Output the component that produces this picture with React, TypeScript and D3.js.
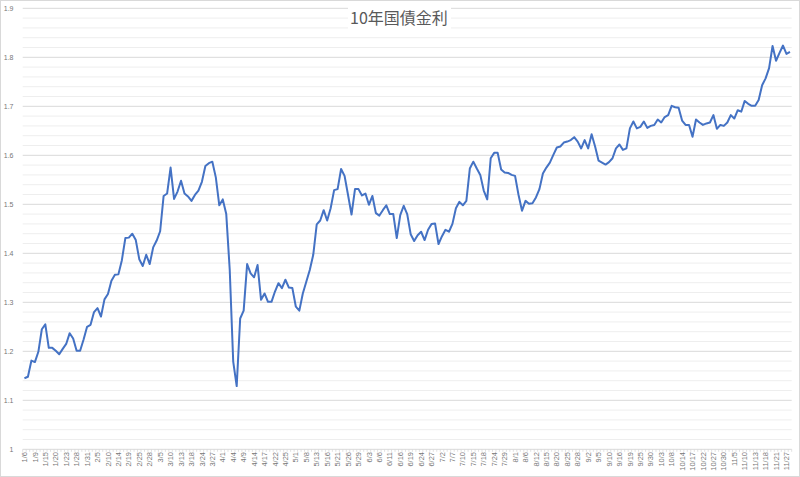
import React from "react";
import * as d3 from "d3";

const title = "10年国債金利";

const dates: string[] = [
  "1/6","1/7","1/8","1/9","1/10","1/14","1/15","1/16","1/17","1/20","1/21","1/22","1/23","1/24","1/27","1/28","1/29","1/30","1/31",
  "2/3","2/4","2/5","2/6","2/7","2/10","2/12","2/13","2/14","2/17","2/18","2/19","2/20","2/21","2/25","2/26","2/27","2/28",
  "3/3","3/4","3/5","3/6","3/7","3/10","3/11","3/12","3/13","3/14","3/17","3/18","3/19","3/21","3/24","3/25","3/26","3/27","3/28","3/31",
  "4/1","4/2","4/3","4/4","4/7","4/8","4/9","4/10","4/11","4/14","4/15","4/16","4/17","4/18","4/21","4/22","4/23","4/24","4/25","4/28","4/30",
  "5/1","5/2","5/7","5/8","5/9","5/12","5/13","5/14","5/15","5/16","5/19","5/20","5/21","5/22","5/23","5/26","5/27","5/28","5/29","5/30",
  "6/2","6/3","6/4","6/5","6/6","6/9","6/10","6/11","6/12","6/13","6/16","6/17","6/18","6/19","6/20","6/23","6/24","6/25","6/26","6/27","6/30",
  "7/1","7/2","7/3","7/4","7/7","7/8","7/9","7/10","7/11","7/14","7/15","7/16","7/17","7/18","7/22","7/23","7/24","7/25","7/28","7/29","7/30","7/31",
  "8/1","8/4","8/5","8/6","8/7","8/8","8/12","8/13","8/14","8/15","8/18","8/19","8/20","8/21","8/22","8/25","8/26","8/27","8/28","8/29",
  "9/1","9/2","9/3","9/4","9/5","9/8","9/9","9/10","9/11","9/12","9/16","9/17","9/18","9/19","9/22","9/24","9/25","9/26","9/29","9/30",
  "10/1","10/2","10/3","10/6","10/7","10/8","10/9","10/10","10/14","10/15","10/16","10/17","10/20","10/21","10/22","10/23","10/24","10/27","10/28","10/29","10/30","10/31",
  "11/4","11/5","11/6","11/7","11/10","11/11","11/12","11/13","11/14","11/17","11/18","11/19","11/20","11/21","11/25","11/26","11/27","11/28",
];

const yields: number[] = [
  1.145,1.148,1.181,1.178,1.199,1.245,1.255,1.207,1.207,1.201,1.194,1.205,1.215,1.237,1.226,1.201,1.201,1.224,1.250,
  1.254,1.280,1.288,1.271,1.306,1.317,1.344,1.356,1.357,1.386,1.431,1.432,1.440,1.427,1.388,1.374,1.397,1.378,
  1.412,1.426,1.445,1.517,1.522,1.575,1.511,1.526,1.548,1.522,1.516,1.507,1.519,1.528,1.546,1.578,1.584,1.587,1.555,1.498,
  1.510,1.480,1.366,1.179,1.129,1.267,1.283,1.378,1.359,1.351,1.376,1.305,1.318,1.301,1.301,1.322,1.339,1.329,1.346,1.330,1.329,
  1.291,1.283,1.318,1.342,1.366,1.397,1.459,1.467,1.488,1.467,1.492,1.529,1.531,1.572,1.558,1.519,1.479,1.531,1.531,1.518,
  1.522,1.499,1.517,1.482,1.477,1.488,1.498,1.480,1.480,1.431,1.478,1.497,1.480,1.439,1.425,1.437,1.444,1.427,1.448,1.460,1.461,
  1.419,1.435,1.448,1.444,1.460,1.492,1.505,1.498,1.507,1.573,1.587,1.573,1.560,1.528,1.510,1.594,1.605,1.605,1.571,1.565,1.564,1.560,
  1.558,1.519,1.487,1.507,1.501,1.502,1.514,1.531,1.563,1.575,1.585,1.601,1.616,1.618,1.626,1.628,1.631,1.637,1.628,1.614,
  1.631,1.614,1.643,1.618,1.589,1.585,1.581,1.586,1.594,1.614,1.622,1.611,1.614,1.655,1.669,1.655,1.658,1.669,1.656,1.660,
  1.662,1.673,1.667,1.678,1.682,1.701,1.698,1.697,1.671,1.662,1.662,1.638,1.673,1.667,1.662,1.665,1.667,1.682,1.654,1.662,1.660,1.667,
  1.682,1.675,1.692,1.689,1.711,1.705,1.701,1.701,1.713,1.743,1.757,1.778,1.823,1.793,1.809,1.824,1.807,1.811,
];

const yTicks: number[] = [1, 1.1, 1.2, 1.3, 1.4, 1.5, 1.6, 1.7, 1.8, 1.9];
const labelStep = 3;

const W = 800;
const H = 477;

export default function App() {
  const x = d3
    .scaleBand<number>()
    .domain(d3.range(dates.length))
    .range([22.7, 791.7])
    .paddingInner(0)
    .paddingOuter(0);
  const cx = (i: number) => (x(i) as number) + x.bandwidth() / 2;
  const y = d3.scaleLinear().domain([1, 1.9]).range([449.3, 8.3]);

  const minor = d3.range(0, 46).filter((k) => k % 5 !== 0).map((k) => 1 + k * 0.02);

  const line = d3
    .line<number>()
    .x((_, i) => cx(i))
    .y((d) => y(d));

  const tickFont = "'Liberation Sans', Arial, sans-serif";

  return (
    <div style={{ position: "absolute", left: 0, top: 0 }}>
      <svg width={W} height={H} style={{ display: "block" }}>
        <rect x={0} y={0} width={W} height={H} fill="#ffffff" />
        <rect x={0.5} y={0.5} width={W - 1} height={H - 1} fill="none" stroke="#d9d9d9" />
        {minor.map((v) => (
          <line key={"m" + v} x1={22.7} x2={791.7} y1={y(v)} y2={y(v)} stroke="#eeeeee" strokeWidth={1} />
        ))}
        {yTicks.map((v) => (
          <line key={"g" + v} x1={22.7} x2={791.7} y1={y(v)} y2={y(v)} stroke="#d9d9d9" strokeWidth={1} />
        ))}
        {d3.range(dates.length + 1).map((i) => {
          const xx = i < dates.length ? (x(i) as number) : 791.7;
          return <line key={"t" + i} x1={xx} x2={xx} y1={y(1)} y2={y(1) + 2.5} stroke="#d9d9d9" strokeWidth={0.8} />;
        })}
        {yTicks.map((v) => (
          <text
            key={"yl" + v}
            x={13.5}
            y={y(v)}
            dy="0.35em"
            textAnchor="end"
            fontSize={7}
            fontFamily={tickFont}
            fill="#777777"
          >
            {String(v)}
          </text>
        ))}
        {dates.map((d, i) =>
          i % labelStep === 0 ? (
            <text
              key={"xl" + i}
              transform={`translate(${cx(i)},${452}) rotate(-90)`}
              dy="0.35em"
              textAnchor="end"
              fontSize={7.5}
              fontFamily={tickFont}
              fill="#777777"
            >
              {d}
            </text>
          ) : null
        )}
        <path d={line(yields) || ""} fill="none" stroke="#4472C4" strokeWidth={2} strokeLinejoin="round" />
        <rect x={348} y={2} width={103} height={30} fill="#ffffff" />
        <text
          x={399}
          y={23.5}
          textAnchor="middle"
          fontSize={16}
          fontFamily="'Noto Sans CJK JP', 'Noto Sans', sans-serif"
          fill="#595959"
        >
          {title}
        </text>
      </svg>
    </div>
  );
}
